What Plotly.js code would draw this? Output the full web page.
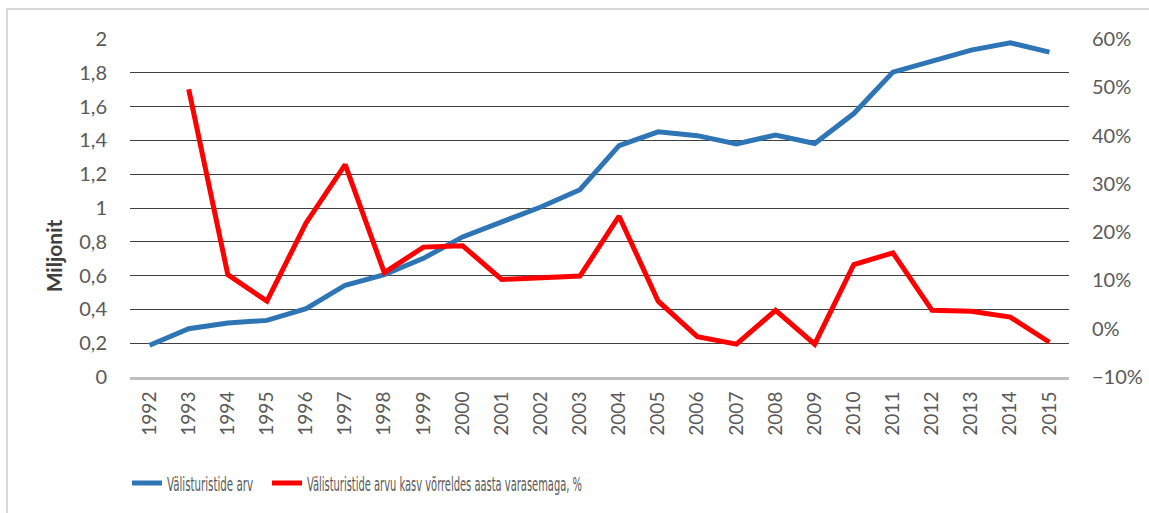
<!DOCTYPE html>
<html>
<head>
<meta charset="utf-8">
<script src="https://cdn.plot.ly/plotly-3.0.1.min.js"></script>
<style>
html,body{margin:0;padding:0;background:#fff;overflow:hidden;}
#chart{width:1149px;height:513px;position:absolute;left:0;top:0;}
#frame{position:absolute;left:6px;top:8px;width:1200px;height:600px;border-left:2px solid #d9d9d9;border-top:2px solid #d9d9d9;pointer-events:none;}
</style>
</head>
<body>
<div id="chart"></div>
<div id="frame"></div>
<script>
const years = ['1992','1993','1994','1995','1996','1997','1998','1999','2000','2001','2002','2003','2004','2005','2006','2007','2008','2009','2010','2011','2012','2013','2014','2015'];
const visitors = [0.188,0.286,0.320,0.335,0.404,0.543,0.606,0.702,0.829,0.918,1.006,1.108,1.369,1.451,1.428,1.379,1.432,1.382,1.559,1.804,1.869,1.934,1.978,1.922];
const growthYears = years.slice(1);
const growth = [49.6,11.2,5.7,21.9,34.0,11.6,16.9,17.2,10.2,10.5,10.9,23.3,5.7,-1.65,-3.2,3.8,-3.2,13.3,15.7,3.8,3.6,2.4,-2.8];
const seriesNames = ['Välisturistide arv','Välisturistide arvu kasv võrreldes aasta varasemaga, %'];
const yTitle = 'Miljonit';

const tickFont = {family:'Lato, "Open Sans", sans-serif', size:20, color:'#595959'};
const legendFont = {family:'"Liberation Sans Narrow", "DejaVu Sans Condensed", sans-serif', size:20, color:'#595959'};

const traces = [
  {x: years, y: visitors, type:'scatter', mode:'lines', name: seriesNames[0],
   line:{color:'#2E75B6', width:5}, yaxis:'y', legend:'legend'},
  {x: growthYears, y: growth, type:'scatter', mode:'lines', name: seriesNames[1],
   line:{color:'#FF0000', width:5}, yaxis:'y2', legend:'legend2'}
];

const layout = {
  width:1149, height:513,
  margin:{l:130, r:80, t:39, b:135},
  paper_bgcolor:'#fff', plot_bgcolor:'#fff',
  separators:', ',
  showlegend:true,
  legend:{orientation:'h', x:-0.0032, xanchor:'left', y:-0.31, yanchor:'middle', font:legendFont, bgcolor:'rgba(0,0,0,0)'},
  legend2:{orientation:'h', x:0.1459, xanchor:'left', y:-0.31, yanchor:'middle', font:legendFont, bgcolor:'rgba(0,0,0,0)'},
  xaxis:{type:'category', categoryarray: years, categoryorder:'array', range:[-0.5,23.5],
         tickangle:-90, tickfont:{family:'Lato, "Open Sans", sans-serif', size:19, color:'#595959'},
         ticklabelstandoff:4,
         showgrid:false, showline:true, linecolor:'#bfbfbf', linewidth:3, ticks:'', ticklen:0,
         zeroline:false, fixedrange:true},
  yaxis:{range:[0,2], dtick:0.2, tick0:0, tickformat:'~r', showgrid:true, gridcolor:'#404040', gridwidth:1,
         zeroline:false, showline:false, ticks:'', tickfont:tickFont, ticklabelstandoff:22,
         fixedrange:true},
  yaxis2:{range:[-10,60], dtick:10, tick0:-10, ticksuffix:'%', overlaying:'y', side:'right',
          showgrid:false, zeroline:false, showline:false, ticks:'', tickfont:tickFont, ticklabelstandoff:22, fixedrange:true},
  annotations:[{text:yTitle, xref:'paper', yref:'paper', x:0, xshift:-77, y:0.357, xanchor:'center', yanchor:'middle',
                textangle:-90, showarrow:false,
                font:{family:'Lato, "Open Sans", sans-serif', size:21, color:'#404040', weight:'bold'}}]
};

function squeeze(gd){
  const targets = {};
  targets[seriesNames[0]] = 86;
  targets[seriesNames[1]] = 275;
  gd.querySelectorAll('text.legendtext, text.legend2text').forEach(function(t){
    const w = targets[t.textContent];
    if (w) {
      t.setAttribute('textLength', w);
      t.setAttribute('lengthAdjust', 'spacingAndGlyphs');
    }
  });
}

Plotly.newPlot('chart', traces, layout, {displayModeBar:false, staticPlot:true}).then(function(gd){
  squeeze(gd);
  setTimeout(function(){ squeeze(gd); }, 50);
  setTimeout(function(){ squeeze(gd); }, 300);
});
</script>
</body>
</html>
